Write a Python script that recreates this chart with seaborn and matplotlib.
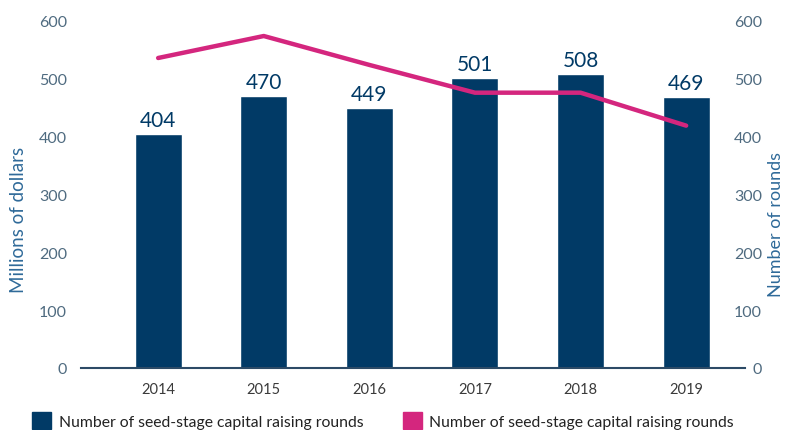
import matplotlib
matplotlib.use("Agg")
import matplotlib.pyplot as plt
from matplotlib.patches import Patch
import seaborn as sns
import pandas as pd

# data
years = ["2014", "2015", "2016", "2017", "2018", "2019"]
dollars = [404, 470, 449, 501, 508, 469]        # millions of dollars (bars)
rounds = [536, 574, 524, 476, 476, 419]         # number of rounds (line)
legend_labels = ["Number of seed-stage capital raising rounds",
                 "Number of seed-stage capital raising rounds"]

navy = "#013a66"
pink = "#d4267e"
tick_col = "#4f6b80"
label_col = "#2f6a99"

sns.set_style("white")
plt.rcParams["font.family"] = ["Lato", "DejaVu Sans"]

df = pd.DataFrame({"year": years, "dollars": dollars, "rounds": rounds})

fig = plt.figure(figsize=(7.87, 4.31), dpi=100)
ax = fig.add_axes([0.103, 0.144, 0.844, 0.805])

sns.barplot(data=df, x="year", y="dollars", color=navy, width=0.445,
            saturation=1, ax=ax)
ax.bar_label(ax.containers[0], fontsize=15, color=navy, padding=3)
ax.set_ylim(0, 600)
ax.set_xlim(-0.73, 5.56)
ax.set_yticks(range(0, 601, 100))
ax.set_xlabel("")
ax.set_ylabel("Millions of dollars", fontsize=13.5, color=label_col)
ax.yaxis.set_label_coords(-0.081, 0.43)
ax.tick_params(axis="y", labelsize=11.5, labelcolor=tick_col, length=0, pad=10)
ax.tick_params(axis="x", labelsize=10.5, labelcolor="#3a3a3a", length=0, pad=10)
for s in ["top", "left", "right"]:
    ax.spines[s].set_visible(False)
ax.spines["bottom"].set_color("#2c4a66")
ax.spines["bottom"].set_linewidth(1.5)

ax2 = ax.twinx()
sns.lineplot(data=df, x="year", y="rounds", color=pink, linewidth=3.2, ax=ax2)
ax2.set_ylim(0, 600)
ax2.set_yticks(range(0, 601, 100))
ax2.set_ylabel("Number of rounds", fontsize=13, color=label_col)
ax2.yaxis.set_label_coords(1.034, 0.415)
ax2.tick_params(axis="y", labelsize=11.5, labelcolor=tick_col, length=0, pad=12)
for t in ax2.get_yticklabels():
    t.set_horizontalalignment("right")
for s in ["top", "left", "right", "bottom"]:
    ax2.spines[s].set_visible(False)

handles = [Patch(color=navy), Patch(color=pink)]
fig.legend(handles, legend_labels, loc="lower left", ncol=2, frameon=False,
           bbox_to_anchor=(0.023, -0.03), fontsize=11.3, handlelength=1.2,
           handleheight=1.2, handletextpad=0.5, columnspacing=2.5,
           labelcolor="#222222")

fig.savefig("out.png", dpi=100)
